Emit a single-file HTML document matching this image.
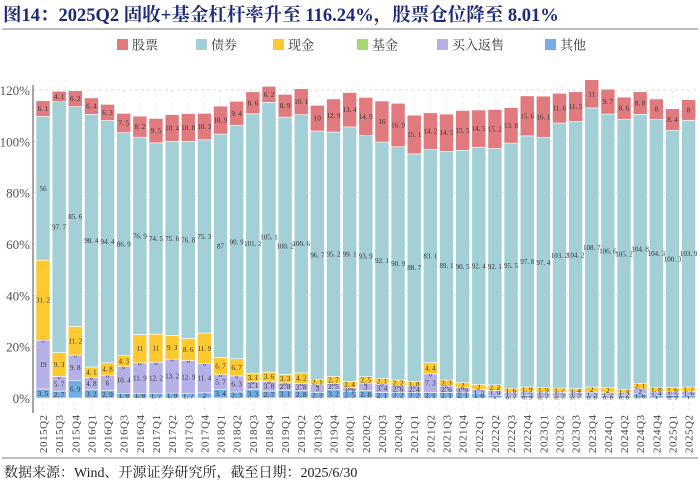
<!DOCTYPE html>
<html><head><meta charset="utf-8"><style>
body{margin:0;background:#fff;width:700px;height:482px;overflow:hidden;font-family:"Liberation Serif","Noto Serif CJK SC",serif}
svg{display:block}
</style></head><body>
<svg id="c" width="700" height="482">
<text x="3" y="21" font-size="18.5" font-weight="bold" fill="#1b2a7a" font-family="Liberation Serif, Noto Serif CJK SC, serif">图14：2025Q2 固收+基金杠杆率升至 116.24%，股票仓位降至 8.01%</text>
<line x1="2" y1="29" x2="698" y2="29" stroke="#999" stroke-width="1.2"/>
<g id="legend"></g>
<g id="grid"></g>
<g id="bars"></g>
<g id="axes"></g>
<line x1="2" y1="458" x2="698" y2="458" stroke="#999" stroke-width="1.2"/>
<text x="4" y="477" font-size="14" fill="#222">数据来源：Wind、开源证券研究所，截至日期：2025/6/30</text>
</svg>
<script>
const categories=["2015Q2","2015Q3","2015Q4","2016Q1","2016Q2","2016Q3","2016Q4","2017Q1","2017Q2","2017Q3","2017Q4","2018Q1","2018Q2","2018Q3","2018Q4","2019Q1","2019Q2","2019Q3","2019Q4","2020Q1","2020Q2","2020Q3","2020Q4","2021Q1","2021Q2","2021Q3","2021Q4","2022Q1","2022Q2","2022Q3","2022Q4","2023Q1","2023Q2","2023Q3","2023Q4","2024Q1","2024Q2","2024Q3","2024Q4","2025Q1","2025Q2"];
const other=[3.5,2.7,6.9,3.2,2.9,1.8,1.8,1.7,1.9,1.7,2,3.4,2.3,3.3,2.7,3.1,2.8,2.2,3.2,2.5,2.8,2.1,2.2,2.2,2.1,2.1,2.1,1.8,1,0.7,0.9,0.7,0.7,0.7,0.8,0.8,0.8,1.6,1,0.9,1];
const buyback=[19,5.7,9.8,4.8,6,10.4,11.9,12.2,13.2,12.9,11.4,5.7,6.3,3.1,3.8,2.8,2.8,3,2.5,1.6,3,3.4,2.6,2.4,7.3,2.6,1.9,1.5,1.9,1.5,1.5,1.5,1.5,1.5,1.5,1.2,1.2,2,1.4,1.5,1.6];
const fund=[0,0,0,0,0,0,0,0,0,0,0,0,0,0,0,0,0,0,0,0,0,0,0,0,0,0,0,0,0,0,0,0,0,0,0,0,0,0,0,0,0];
const cash=[31.2,9.3,11.2,4.1,4.8,4.3,11,11,9.3,8.6,11.9,6.7,6.7,3.1,3.6,3.3,4.2,2.1,2.7,2.4,2.5,2.1,2.2,1.8,4.4,2.3,2,2,2.2,1.6,1.9,1.9,1.7,1.4,2,2,1.4,2.1,1.8,1.6,1.7];
const bond=[56,97.7,85.6,98.4,94.4,86.9,76.9,74.5,75.6,76.8,75.3,87,90.9,101.2,105.1,100.2,100.6,96.7,95.2,99.1,93.9,92.1,90.9,88.7,83.1,89.1,90.5,92.4,92.1,95.5,97.8,97.4,103.2,104.2,108.7,106.6,105.2,104.8,104.3,100.3,103.9];
const stock=[6.1,4.1,6.2,6.4,6.3,7.5,8.2,9.5,10.4,10.8,10.3,10.9,9.4,8.6,6.2,8.9,10.1,10,12.9,13.4,14.9,16,16.9,15.1,14.2,14.5,15.5,14.5,15.2,13.8,15.6,16.1,11.6,11.5,11,9.7,8.6,8.8,8,8.4,8];
const yTicks=[0,20,40,60,80,100,120];
const seriesNames=["股票","债券","现金","基金","买入返售","其他"];
const colors={stock:"#e07a7e",bond:"#a2d0d6",cash:"#fcc930",fund:"#a6d96f",buyback:"#b5b0e6",other:"#74ade3"};
const NS="http://www.w3.org/2000/svg";
function mk(t,a,p){const e=document.createElementNS(NS,t);for(const k in a)e.setAttribute(k,a[k]);p.appendChild(e);return e;}
const y0=398,pxPer=2.567,x0=43,step=16.14,bw=14;
const Y=v=>y0-v*pxPer, X=i=>x0+i*step;
const grid=document.getElementById('grid'),bars=document.getElementById('bars'),axes=document.getElementById('axes'),leg=document.getElementById('legend');
yTicks.forEach(t=>{
 const l=mk('line',{x1:33,x2:698,y1:Y(t),y2:Y(t),stroke:"#ddd","stroke-dasharray":"3,3"},grid);
 
 
 const tx=mk('text',{x:30,y:Y(t)+5,"text-anchor":"end","font-size":13,fill:"#555"},axes);
 tx.textContent=t+"%";
 
 
});
categories.forEach((c,i)=>{
 const vl=mk('line',{x1:X(i),x2:X(i),y1:90,y2:413,stroke:"#eee","stroke-dasharray":"3,3"},grid);
 
 
});
mk('line',{x1:33,x2:33,y1:85,y2:413,stroke:"#888","stroke-width":1.5},axes);
const order=[["other",other],["buyback",buyback],["fund",fund],["cash",cash],["bond",bond],["stock",stock]];
categories.forEach((c,i)=>{
 let acc=0;
 order.forEach(([k,arr])=>{
  const v=arr[i];
  const r=mk('rect',{x:X(i)-bw/2,y:Y(acc+v),width:bw,height:v*pxPer,fill:colors[k],stroke:"#fff","stroke-width":0.6},bars);
  
  
  const show=(k==="fund")?(i<27):true;
  if(show){
   const t=mk('text',{x:X(i),y:Y(acc+v/2)+2.5,"text-anchor":"middle","font-size":7,fill:"#333"},bars);
   t.textContent=String(v).replace('.','. ');
   
   
  }
  acc+=v;
 });
 const xl=mk('text',{x:0,y:0,"font-size":11,fill:"#444",transform:`translate(${X(i)+4},${453}) rotate(-90)`,"letter-spacing":"0.5"},axes);
 xl.textContent=c;
 
 
});
const lx=[117,196,273,357,437,545],lk=["stock","bond","cash","fund","buyback","other"];
seriesNames.forEach((n,i)=>{
 const r=mk('rect',{x:lx[i],y:39,width:11,height:11,fill:colors[lk[i]]},leg);
 
 
 const t=mk('text',{x:lx[i]+15,y:49.5,"font-size":13,fill:"#333"},leg);
 t.textContent=n;
 
 
});
</script>
</body></html>
